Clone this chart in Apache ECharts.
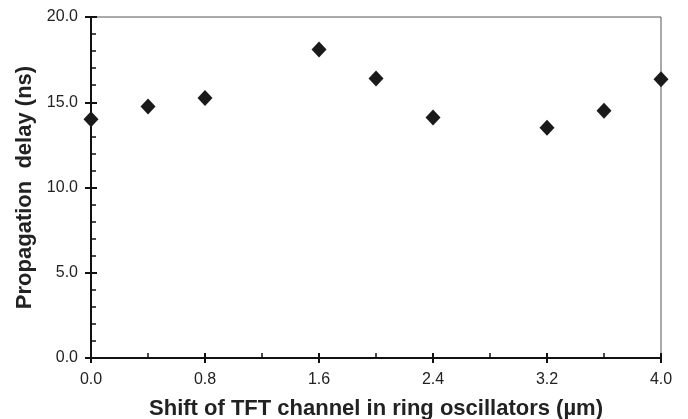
<!DOCTYPE html>
<html><head><meta charset="utf-8">
<script src="https://cdn.jsdelivr.net/npm/echarts@6/dist/echarts.min.js"></script>
<style>html,body{margin:0;padding:0;background:#fff}#c{width:688px;height:419px}</style>
</head><body><div id="c"></div>
<script>
var shifts = [0.0, 0.4, 0.8, 1.6, 2.0, 2.4, 3.2, 3.6, 4.0];
var delays = [14.0, 14.75, 15.25, 18.1, 16.4, 14.1, 13.5, 14.5, 16.35];
var xTitle = 'Shift of TFT channel in ring oscillators (\u00b5m)';
var yTitle = 'Propagation  delay (ns)';

var font = '"Liberation Sans", Arial, sans-serif';
var chart = echarts.init(document.getElementById('c'), null, {renderer:'canvas'});
var data = shifts.map(function(x,i){return [x, delays[i]];});
var lbl = {fontFamily:font, fontSize:16, color:'#222', formatter:function(v){return v.toFixed(1);}};
chart.setOption({
  animation:false,
  grid:{left:91, right:27, top:17, bottom:61, show:true, borderColor:'#555', borderWidth:1,
        containLabel:false, outerBoundsMode:'none'},
  xAxis:[{
    type:'value', min:0, max:4, interval:0.8, position:'bottom',
    axisLine:{show:true, lineStyle:{color:'#111', width:2}},
    axisTick:{show:true, inside:false, length:5, lineStyle:{color:'#111', width:2}},
    axisLabel:Object.assign({margin:14}, lbl),
    splitLine:{show:false},
    name:xTitle, nameLocation:'middle', nameGap:40,
    nameTextStyle:{fontFamily:font, fontSize:22, fontWeight:'bold', color:'#222'}
  },{
    type:'value', min:0, max:4, interval:0.8, position:'bottom',
    axisLine:{show:false},
    axisTick:{show:true, inside:true, length:5, lineStyle:{color:'#111', width:2}},
    minorTick:{show:true, splitNumber:2, length:5, lineStyle:{color:'#111', width:1.5}},
    axisLabel:{show:false}, splitLine:{show:false}
  }],
  yAxis:[{
    type:'value', min:0, max:20, interval:5,
    axisLine:{show:true, lineStyle:{color:'#111', width:2}},
    axisTick:{show:true, inside:false, length:6, lineStyle:{color:'#111', width:2}},
    axisLabel:Object.assign({margin:13}, lbl),
    splitLine:{show:false},
    name:yTitle, nameLocation:'middle', nameGap:50,
    nameTextStyle:{fontFamily:font, fontSize:22, fontWeight:'bold', color:'#222'}
  },{
    type:'value', min:0, max:20, interval:5, position:'left',
    axisLine:{show:false},
    axisTick:{show:true, inside:true, length:6, lineStyle:{color:'#111', width:2}},
    minorTick:{show:true, splitNumber:5, length:5, lineStyle:{color:'#111', width:1.5}},
    axisLabel:{show:false}, splitLine:{show:false}
  }],
  series:[{
    type:'scatter', data:data, symbol:'diamond', symbolSize:[15,16],
    itemStyle:{color:'#1a1a1a', opacity:1}, clip:false, z:5
  }]
});
</script></body></html>
